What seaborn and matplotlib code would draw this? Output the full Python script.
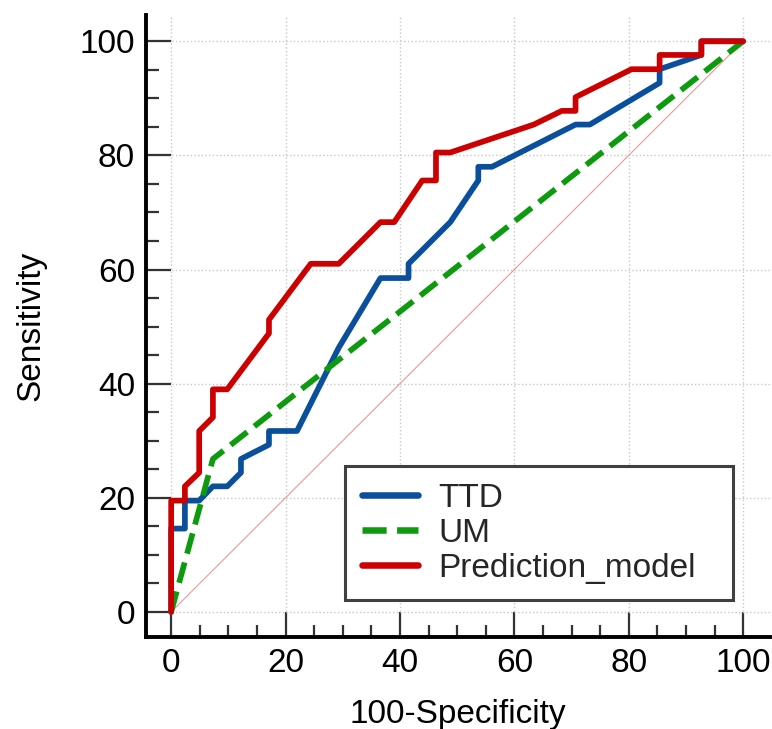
import matplotlib
matplotlib.use("Agg")
import matplotlib.pyplot as plt
from matplotlib.ticker import MultipleLocator
import seaborn as sns
import pandas as pd

# ---- data ----
ttd_x = [0, 0, 2.4, 2.4, 4.9, 7.3, 9.8, 12.2, 12.2, 17.1, 17.1, 22.0, 29.3, 36.6, 41.5, 41.5,
         48.8, 53.7, 53.7, 56.1, 70.7, 73.2, 85.4, 85.4, 92.7, 92.7, 100]
ttd_y = [0, 14.6, 14.6, 19.5, 19.5, 22.0, 22.0, 24.4, 26.8, 29.3, 31.7, 31.7, 46.3, 58.5, 58.5, 61.0,
         68.3, 75.6, 78.0, 78.0, 85.4, 85.4, 92.7, 95.1, 97.6, 100, 100]

um_x = [0, 7.3, 100]
um_y = [0, 26.8, 100]

pm_x = [0, 0, 2.4, 2.4, 4.9, 4.9, 7.3, 7.3, 9.8, 17.1, 17.1, 24.4, 29.3, 36.6, 39.0, 43.9, 46.3,
        46.3, 48.8, 63.4, 68.3, 70.7, 70.7, 80.5, 85.4, 85.4, 92.7, 92.7, 100]
pm_y = [0, 19.5, 19.5, 22.0, 24.4, 31.7, 34.1, 39.0, 39.0, 48.8, 51.2, 61.0, 61.0, 68.3, 68.3, 75.6, 75.6,
        80.5, 80.5, 85.4, 87.8, 87.8, 90.2, 95.1, 95.1, 97.6, 97.6, 100, 100]

ref_x = [0, 100]
ref_y = [0, 100]

x_ticks = [0, 20, 40, 60, 80, 100]
y_ticks = [0, 20, 40, 60, 80, 100]

series_names = ["TTD", "UM", "Prediction_model"]
colors = {"TTD": "#0A4F9C", "UM": "#0E9A0E", "Prediction_model": "#CC0000"}

df = pd.concat([
    pd.DataFrame({"x": ttd_x, "y": ttd_y, "model": "TTD", "order": range(len(ttd_x))}),
    pd.DataFrame({"x": um_x, "y": um_y, "model": "UM", "order": range(len(um_x))}),
    pd.DataFrame({"x": pm_x, "y": pm_y, "model": "Prediction_model", "order": range(len(pm_x))}),
], ignore_index=True)

sns.set_theme(style="white")
plt.rcParams["font.family"] = ["Liberation Sans", "DejaVu Sans"]

fig = plt.figure(figsize=(7.72, 7.29), dpi=100)
ax = fig.add_axes([146 / 772, 1 - 637 / 729, 624 / 772, 622 / 729])

# reference diagonal
sns.lineplot(x=ref_x, y=ref_y, ax=ax, color="#E49A9A", linewidth=0.8, zorder=2)

LW = 4.1
for name in series_names:
    sub = df[df["model"] == name]
    ls = "--" if name == "UM" else "-"
    sns.lineplot(data=sub, x="x", y="y", sort=False, estimator=None, ax=ax,
                 color=colors[name], linewidth=LW, linestyle=ls, label=name,
                 zorder=4 if name != "TTD" else 3,
                 **({"dashes": (2.7, 1.5)} if name == "UM" else {}))

ax.set_xlim(-4.4, 104.7)
ax.set_ylim(-4.4, 104.6)
ax.set_xticks(x_ticks)
ax.set_yticks(y_ticks)
ax.xaxis.set_minor_locator(MultipleLocator(5))
ax.yaxis.set_minor_locator(MultipleLocator(5))

ax.grid(True, which="major", color="#C8C8C8", linestyle=":", linewidth=1.0, zorder=0)
ax.set_axisbelow(True)

for s in ["top", "right"]:
    ax.spines[s].set_visible(False)
for s in ["left", "bottom"]:
    ax.spines[s].set_color("black")
    ax.spines[s].set_linewidth(2.8)

ax.tick_params(which="major", direction="in", length=18, width=1.6, color="#333333",
               labelsize=24, pad=8, bottom=True, left=True, labelcolor="black")
ax.tick_params(which="minor", direction="in", length=9, width=1.6, color="#333333",
               bottom=True, left=True)

ax.set_xlabel("100-Specificity", fontsize=24, color="black")
ax.set_ylabel("Sensitivity", fontsize=24, color="black")
ax.xaxis.set_label_coords(0.5, -0.099)
ax.yaxis.set_label_coords(-0.160, 0.50)

leg = ax.legend(loc="lower left", bbox_to_anchor=(0.319, 0.059, 0.622, 0.2), mode="expand",
                fontsize=24, frameon=True, fancybox=False, framealpha=1, edgecolor="#404040",
                handlelength=1.7, handletextpad=0.6, labelspacing=0.12,
                borderpad=0.5, borderaxespad=0)
leg.get_frame().set_linewidth(2.2)
for h in leg.get_lines():
    h.set_linewidth(LW + 0.6)

fig.savefig("out.png", dpi=100)
